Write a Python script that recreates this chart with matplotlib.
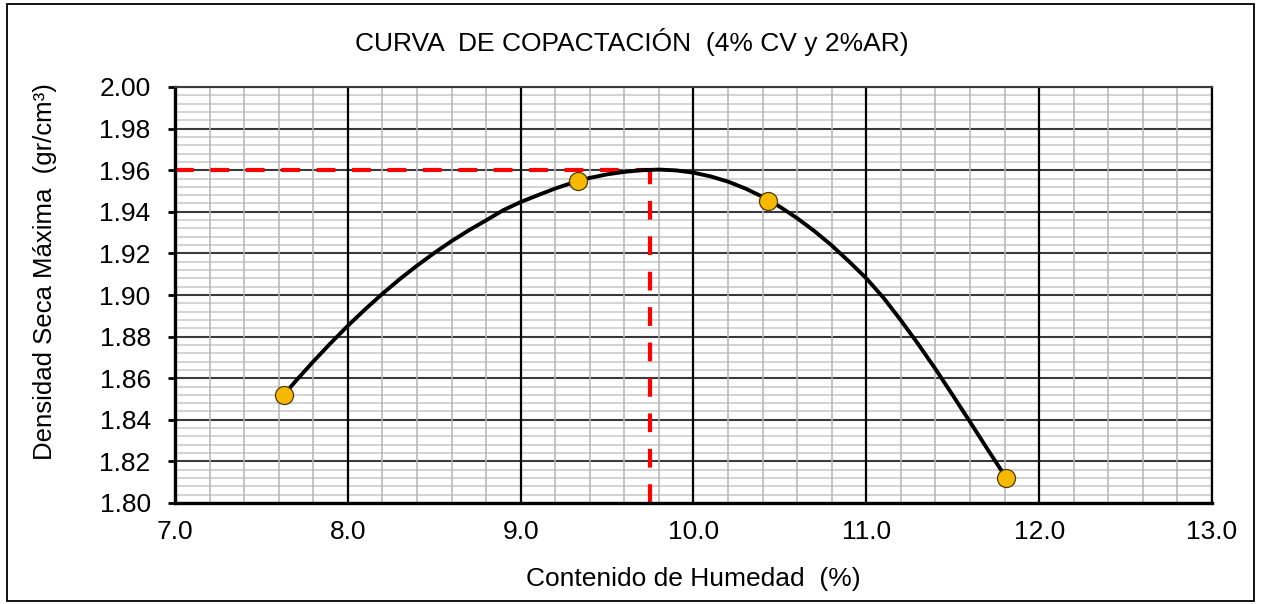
"""Curva de compactacion (Proctor) con densidad maxima y humedad optima marcadas."""

import matplotlib

matplotlib.use("Agg")

import matplotlib.pyplot as plt
from matplotlib.patches import Rectangle
from matplotlib.ticker import FormatStrFormatter, MultipleLocator

TITLE = "CURVA  DE COPACTACIÓN  (4% CV y 2%AR)"
X_LABEL = "Contenido de Humedad  (%)"
Y_LABEL = "Densidad Seca Máxima  (gr/cm³)"

# ensayos de laboratorio
HUMEDAD = [7.63, 9.33, 10.43, 11.81]
DENSIDAD = [1.852, 1.955, 1.945, 1.812]

# curva suavizada
CURVA_X = [7.63, 7.70, 7.80, 7.90, 8.00, 8.10, 8.20, 8.30, 8.40, 8.50,
           8.60, 8.70, 8.80, 8.90, 9.00, 9.10, 9.20, 9.30, 9.40, 9.50,
           9.60, 9.70, 9.80, 9.90, 10.00, 10.10, 10.20, 10.30, 10.40, 10.50,
           10.60, 10.70, 10.80, 10.90, 11.00, 11.10, 11.20, 11.30, 11.40,
           11.50, 11.60, 11.70, 11.81]
CURVA_Y = [1.8520, 1.8588, 1.8680, 1.8768, 1.8852, 1.8931, 1.9006, 1.9076,
           1.9141, 1.9202, 1.9259, 1.9311, 1.9359, 1.9408, 1.9447, 1.9480,
           1.9512, 1.9540, 1.9563, 1.9580, 1.9592, 1.9600, 1.9603, 1.9599,
           1.9588, 1.9570, 1.9545, 1.9512, 1.9472, 1.9424, 1.9369, 1.9307,
           1.9238, 1.9161, 1.9080, 1.8986, 1.8878, 1.8764, 1.8644, 1.8518,
           1.8390, 1.8260, 1.8120]

HUMEDAD_OPTIMA = 9.75
DENSIDAD_MAXIMA = 1.96

X_LIM = (7.0, 13.0)
Y_LIM = (1.80, 2.00)

W, H = 1261, 604


def run() -> None:
    plt.rcParams["font.family"] = ["Liberation Sans", "DejaVu Sans"]
    fig = plt.figure(figsize=(W / 100, H / 100), dpi=100)
    ax = fig.add_axes([175 / W, (H - 503) / H, (1212 - 175) / W, (503 - 87) / H])

    ax.set_xlim(*X_LIM)
    ax.set_ylim(*Y_LIM)
    ax.xaxis.set_major_locator(MultipleLocator(1.0))
    ax.xaxis.set_minor_locator(MultipleLocator(0.2))
    ax.yaxis.set_major_locator(MultipleLocator(0.02))
    ax.yaxis.set_minor_locator(MultipleLocator(0.004))
    ax.xaxis.set_major_formatter(FormatStrFormatter("%.1f"))
    ax.yaxis.set_major_formatter(FormatStrFormatter("%.2f"))

    ax.grid(which="minor", axis="x", color="#b4b4b4", linewidth=1.1)
    ax.grid(which="minor", axis="y", color="#c8c8c8", linewidth=1.1)
    ax.grid(which="major", axis="x", color="black", linewidth=1.6)
    ax.grid(which="major", axis="y", color="#3a3a3a", linewidth=1.5)
    ax.set_axisbelow(True)
    # vertical lines on top of the horizontal ones, as in the sheet
    ax.yaxis.set_zorder(0.4)
    ax.xaxis.set_zorder(0.5)

    ax.tick_params(axis="y", which="major", direction="out", length=5, width=2,
                   labelsize=19, pad=12.5, colors="black")
    ax.tick_params(axis="x", which="major", direction="out", length=0,
                   labelsize=19, pad=12)
    ax.tick_params(which="minor", length=0)

    for side in ("left", "bottom"):
        ax.spines[side].set_linewidth(2.4)
        ax.spines[side].set_color("black")
    ax.spines["top"].set_linewidth(1.5)
    ax.spines["top"].set_color("#3a3a3a")
    ax.spines["right"].set_linewidth(1.6)
    ax.spines["right"].set_color("black")

    # lineas de lectura del optimo
    ax.plot([X_LIM[0], HUMEDAD_OPTIMA], [DENSIDAD_MAXIMA, DENSIDAD_MAXIMA],
            color="#ff0000", linewidth=3, dashes=(4.5, 4), zorder=2)
    ax.plot([HUMEDAD_OPTIMA, HUMEDAD_OPTIMA], [Y_LIM[0], DENSIDAD_MAXIMA],
            color="#ff0000", linewidth=3, dashes=(4.5, 4), zorder=2)

    ax.plot(CURVA_X, CURVA_Y, color="black", linewidth=2.8,
            solid_capstyle="round", solid_joinstyle="round", zorder=3)
    ax.plot(HUMEDAD, DENSIDAD, linestyle="none", marker="o", markersize=13,
            markerfacecolor="#f7b800", markeredgecolor="#4a3a10",
            markeredgewidth=0.9, zorder=4)

    ax.set_xlabel(X_LABEL, fontsize=19, labelpad=16.5)
    ax.set_ylabel(Y_LABEL, fontsize=18.5)
    ax.yaxis.set_label_coords((57 - 175) / 1037, (503 - 272) / 416)
    fig.text(632 / W, 1 - 42 / H, TITLE, fontsize=19, ha="center", va="center")

    fig.patches.append(Rectangle((7 / W, 3 / H), (1254 - 7) / W, (600 - 3) / H,
                                 transform=fig.transFigure, fill=False,
                                 edgecolor="black", linewidth=1.3))

    fig.savefig("out.png", dpi=100)
    plt.close(fig)


if __name__ == "__main__":
    run()
